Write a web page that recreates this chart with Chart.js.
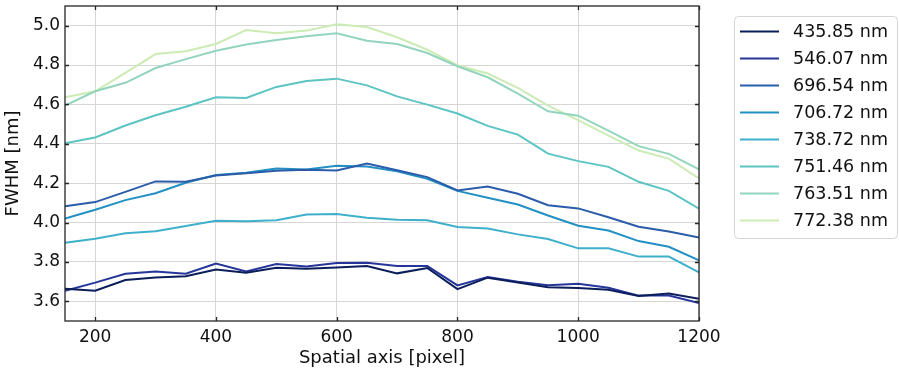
<!DOCTYPE html>
<html>
<head>
<meta charset="utf-8">
<script src="https://cdn.jsdelivr.net/npm/chart.js@4.4.1/dist/chart.umd.min.js"></script>
<style>
  html, body { margin: 0; padding: 0; background: #fff; }
  #wrap { width: 899px; height: 371px; position: relative; }
</style>
</head>
<body>
<div id="wrap"><canvas id="fwhm_chart"></canvas></div>
<script>
// spatial positions along the slit
const pixels = [150, 200, 250, 300, 350, 400, 450, 500, 550, 600, 650,
                700, 750, 800, 850, 900, 950, 1000, 1050, 1100, 1150, 1200];

const lineLabels = ['435.85 nm', '546.07 nm', '696.54 nm', '706.72 nm',
                    '738.72 nm', '751.46 nm', '763.51 nm', '772.38 nm'];

// FWHM per line, one value per pixel position
const fwhm435 = [3.664, 3.654, 3.708, 3.721, 3.727, 3.762, 3.745, 3.771, 3.766, 3.772, 3.779,
                 3.742, 3.769, 3.662, 3.720, 3.695, 3.672, 3.667, 3.659, 3.627, 3.640, 3.613];
const fwhm546 = [3.654, 3.695, 3.740, 3.752, 3.740, 3.792, 3.752, 3.789, 3.777, 3.794, 3.796,
                 3.779, 3.779, 3.681, 3.723, 3.700, 3.681, 3.689, 3.669, 3.629, 3.630, 3.591];
const fwhm696 = [4.083, 4.104, 4.156, 4.209, 4.207, 4.239, 4.251, 4.263, 4.268, 4.264, 4.300,
                 4.266, 4.231, 4.163, 4.183, 4.146, 4.088, 4.072, 4.027, 3.979, 3.955, 3.924];
const fwhm706 = [4.021, 4.065, 4.114, 4.149, 4.202, 4.242, 4.253, 4.274, 4.270, 4.288, 4.285,
                 4.261, 4.222, 4.161, 4.126, 4.092, 4.036, 3.984, 3.960, 3.906, 3.877, 3.808];
const fwhm738 = [3.897, 3.918, 3.946, 3.956, 3.982, 4.009, 4.007, 4.012, 4.041, 4.043, 4.024,
                 4.014, 4.012, 3.977, 3.970, 3.940, 3.916, 3.869, 3.869, 3.827, 3.827, 3.747];
const fwhm751 = [4.403, 4.432, 4.493, 4.545, 4.588, 4.636, 4.633, 4.689, 4.719, 4.731, 4.697,
                 4.641, 4.599, 4.554, 4.491, 4.447, 4.350, 4.312, 4.283, 4.207, 4.161, 4.071];
const fwhm763 = [4.594, 4.667, 4.710, 4.785, 4.830, 4.873, 4.904, 4.927, 4.946, 4.961, 4.924,
                 4.907, 4.861, 4.794, 4.738, 4.655, 4.565, 4.543, 4.467, 4.388, 4.349, 4.270];
const fwhm772 = [4.636, 4.667, 4.760, 4.856, 4.870, 4.907, 4.978, 4.961, 4.975, 5.007, 4.993,
                 4.941, 4.878, 4.799, 4.757, 4.684, 4.594, 4.520, 4.442, 4.366, 4.325, 4.224];

const xTicks = [200, 400, 600, 800, 1000, 1200];
const yTicks = [3.6, 3.8, 4.0, 4.2, 4.4, 4.6, 4.8, 5.0];

const lineColors = ['#0b1d5a', '#26359a', '#2a5ca9', '#2290c4',
                    '#3fb0cc', '#5cc4c3', '#92d5bc', '#cdebb4'];

const FONT = 'DejaVu Sans';
const allSeries = [fwhm435, fwhm546, fwhm696, fwhm706, fwhm738, fwhm751, fwhm763, fwhm772];

const datasets = allSeries.map((vals, i) => ({
    label: lineLabels[i],
    data: vals.map((v, j) => ({ x: pixels[j], y: v })),
    borderColor: lineColors[i],
    backgroundColor: lineColors[i],
    borderWidth: 2,
    pointRadius: 0,
    tension: 0,
    fill: false
}));

// inward ticks on all four sides plus the closed frame
const frameTicks = {
    id: 'frameTicks',
    afterDatasetsDraw(chart) {
        const { ctx, chartArea: a, scales } = chart;
        ctx.save();
        ctx.strokeStyle = '#262626';
        ctx.lineWidth = 1.3;
        const len = 4;
        ctx.beginPath();
        xTicks.forEach(v => {
            const px = Math.round(scales.x.getPixelForValue(v)) + 0.5;
            ctx.moveTo(px, a.bottom); ctx.lineTo(px, a.bottom - len);
            ctx.moveTo(px, a.top); ctx.lineTo(px, a.top + len);
        });
        yTicks.forEach(v => {
            const py = Math.round(scales.y.getPixelForValue(v)) + 0.5;
            ctx.moveTo(a.left, py); ctx.lineTo(a.left + len, py);
            ctx.moveTo(a.right, py); ctx.lineTo(a.right - len, py);
        });
        ctx.stroke();
        ctx.strokeRect(a.left, a.top, a.right - a.left, a.bottom - a.top);
        ctx.restore();
    }
};

// legend box placed outside the axes, to the right
const sideLegend = {
    id: 'sideLegend',
    afterDraw(chart) {
        const { ctx, chartArea: a } = chart;
        const x0 = a.right + 35, y0 = 16, w = 163, h = 222, r = 4;
        ctx.save();
        ctx.fillStyle = '#fff';
        ctx.strokeStyle = '#d4d4d4';
        ctx.lineWidth = 1;
        ctx.beginPath();
        ctx.roundRect(x0 + 0.5, y0 + 0.5, w, h, r);
        ctx.fill();
        ctx.stroke();
        ctx.font = '17.5px "' + FONT + '"';
        ctx.textBaseline = 'middle';
        ctx.fillStyle = '#111';
        chart.data.datasets.forEach((ds, i) => {
            const y = y0 + 15.5 + i * 27;
            ctx.strokeStyle = ds.borderColor;
            ctx.lineWidth = 2;
            ctx.beginPath();
            ctx.moveTo(x0 + 6, y);
            ctx.lineTo(x0 + 45, y);
            ctx.stroke();
            ctx.fillText(ds.label, x0 + 59, y + 1);
        });
        ctx.restore();
    }
};

new Chart(document.getElementById('fwhm_chart'), {
    type: 'line',
    data: { datasets },
    options: {
        responsive: true,
        maintainAspectRatio: false,
        animation: false,
        layout: { padding: { top: 6, right: 200, bottom: 0, left: 0 } },
        plugins: {
            legend: { display: false },
            tooltip: { enabled: false }
        },
        scales: {
            x: {
                type: 'linear',
                min: 150,
                max: 1200,
                afterBuildTicks: s => { s.ticks = xTicks.map(v => ({ value: v })); },
                afterFit: s => { s.height = 50; },
                grid: { color: '#d6d6d6', lineWidth: 1, drawTicks: false },
                border: { display: false },
                ticks: {
                    padding: 6,
                    color: '#111',
                    font: { family: FONT, size: 17 },
                    maxRotation: 0,
                    callback: v => String(v)
                },
                title: {
                    display: true,
                    text: 'Spatial axis [pixel]',
                    color: '#111',
                    font: { family: FONT, size: 18 },
                    padding: { top: 0, bottom: 2 }
                }
            },
            y: {
                type: 'linear',
                min: 3.5,
                max: 5.1,
                afterBuildTicks: s => { s.ticks = yTicks.map(v => ({ value: v })); },
                afterFit: s => {
                    s.width = 65;
                    // labels sit inside the range, no extra room needed above/below
                    s.paddingTop = 0;
                    s.paddingBottom = 0;
                },
                grid: { color: '#d6d6d6', lineWidth: 1, drawTicks: false },
                border: { display: false },
                ticks: {
                    padding: 5,
                    color: '#111',
                    font: { family: FONT, size: 17 },
                    callback: v => v.toFixed(1)
                },
                title: {
                    display: true,
                    text: 'FWHM [nm]',
                    color: '#111',
                    font: { family: FONT, size: 18 },
                    padding: { top: 3, bottom: 0 }
                }
            }
        }
    },
    plugins: [frameTicks, sideLegend]
});
</script>
</body>
</html>
